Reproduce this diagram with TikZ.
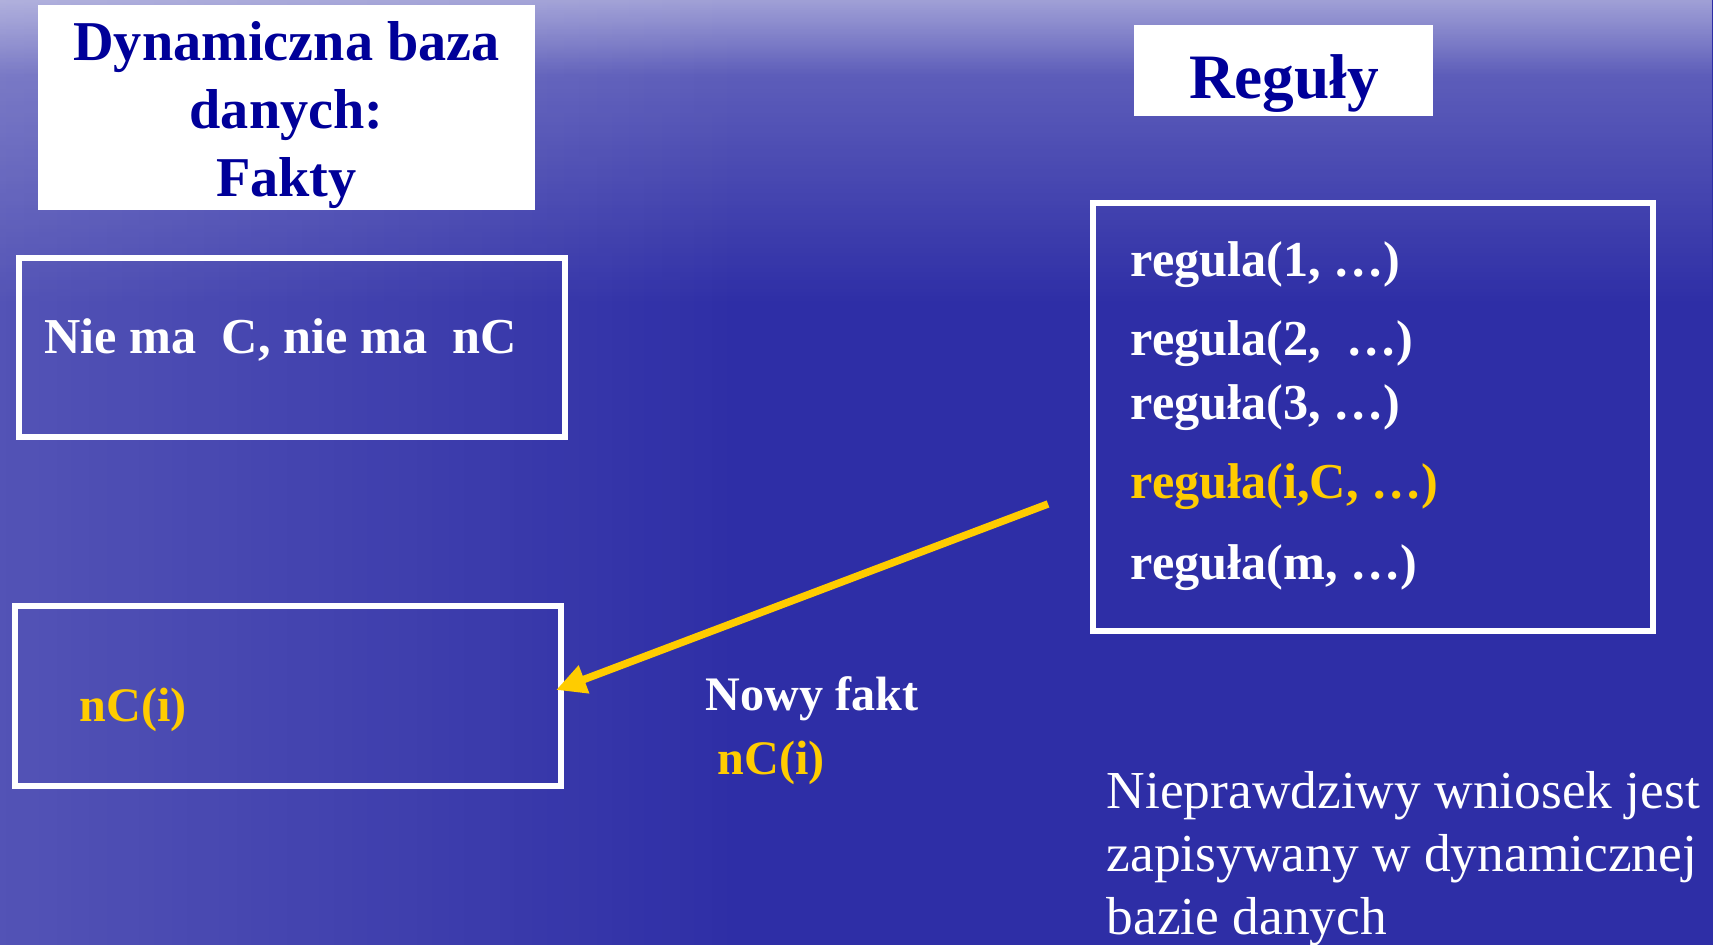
\documentclass[tikz,border=0pt]{standalone}
\usepackage{fontspec}
\setmainfont{Liberation Serif}
\usetikzlibrary{arrows.meta, fadings}
\definecolor{bgblue}{HTML}{2E2EA6}
\definecolor{headblue}{HTML}{000099}
\definecolor{factyellow}{HTML}{FFCC00}

\begin{document}
\begin{tikzpicture}[every node/.style={inner sep=0pt},
  outbox/.style={draw=white, line width=0.06cm},
  headbox/.style={fill=white},
  headtext/.style={text=headblue, font=\bfseries\fontsize{16}{19.4}\selectfont, align=center},
  ruleline/.style={text=white, anchor=base west, font=\bfseries\fontsize{14.3}{17}\selectfont},
  hiline/.style={ruleline, text=factyellow},
  smallline/.style={ruleline, font=\bfseries\fontsize{13.7}{16}\selectfont},
  factarrow/.style={-{Triangle[length=0.3cm, width=0.28cm]}, draw=factyellow, line width=0.075cm}]
\useasboundingbox (0,0) rectangle (17.13,9.45);
% Background
\fill[bgblue] (0,0) rectangle (17.13,9.45);
\fill[white, fill opacity=0.3, path fading=south] (0,6.4) rectangle (17.13,9.45);
\fill[white, fill opacity=0.35, path fading=south] (0,8.7) rectangle (17.13,9.45);
\fill[white, fill opacity=0.18, path fading=east] (0,0) rectangle (7.5,9.45);
% Facts header
\node[headbox, minimum width=4.97cm, minimum height=2.05cm] (dbbox) at (2.865,8.375) {};
\node[headtext] (dbtitle) at (2.865,8.30) {Dynamiczna baza\\ danych:\\ Fakty};
% Facts before
\node[outbox, minimum width=5.46cm, minimum height=1.79cm] (oldfacts) at (2.92,5.975) {};
\node[ruleline] (nofact) at (0.44,5.91) {Nie ma~~C, nie ma~~nC};
% Facts after
\node[outbox, minimum width=5.46cm, minimum height=1.80cm] (newfacts) at (2.88,2.49) {};
\node[smallline, text=factyellow] (ncbox) at (0.79,2.23) {nC(i)};
% Rules header
\node[headbox, minimum width=2.99cm, minimum height=0.91cm] (rulebox) at (12.835,8.745) {};
\node[headtext, font=\bfseries\fontsize{18}{21}\selectfont, anchor=base] (ruletitle) at (12.84,8.46) {Reguły};
% Rules
\node[outbox, minimum width=5.60cm, minimum height=4.28cm] (rules) at (13.73,5.28) {};
\node[ruleline] (r1) at (11.30,6.68) {regula(1, …)};
\node[ruleline] (r2) at (11.30,5.89) {regula(2,~~…)};
\node[ruleline] (r3) at (11.30,5.25) {reguła(3, …)};
\node[hiline] (ri) at (11.30,4.46) {reguła(i,C, …)};
\node[ruleline] (rm) at (11.30,3.65) {reguła(m, …)};
% New fact
\coordinate (firing) at (10.48,4.41);
\draw[factarrow] (firing) -- ([xshift=-0.08cm, yshift=0.06cm]newfacts.east);
\node[smallline] (newlabel) at (7.05,2.34) {Nowy fakt};
\node[smallline, text=factyellow] (newfact) at (7.17,1.70) {nC(i)};
% Note
\node[anchor=north west, text=white, align=left, font=\fontsize{15.2}{17.9}\selectfont] (note) at (11.06,1.74) {Nieprawdziwy wniosek jest\\ zapisywany w dynamicznej\\ bazie danych};
\end{tikzpicture}
\end{document}
